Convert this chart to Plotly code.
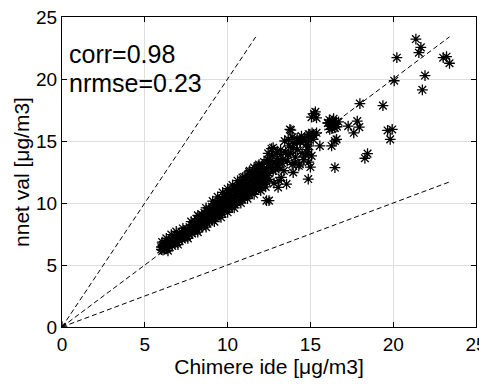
import plotly.graph_objects as go

# ---- data: Chimere ide (x) vs nnet val (y) ----
band_x = [
    6.0, 6.0,
    6.1, 6.1, 6.1,
    6.2, 6.2, 6.2,
    6.35, 6.35, 6.35,
    6.5, 6.5, 6.5,
    6.65, 6.65, 6.65,
    6.8, 6.8, 6.8,
    6.95, 6.95, 6.95,
    7.1, 7.1, 7.1,
    7.25, 7.25, 7.25,
    7.4, 7.4, 7.4,
    7.55, 7.55, 7.55,
    7.7, 7.7, 7.7,
    7.85, 7.85, 7.85,
    8.0, 8.0, 8.0, 8.0,
    8.15, 8.15, 8.15, 8.15,
    8.3, 8.3, 8.3, 8.3,
    8.45, 8.45, 8.45, 8.45,
    8.6, 8.6, 8.6, 8.6,
    8.75, 8.75, 8.75, 8.75,
    8.9, 8.9, 8.9, 8.9,
    9.05, 9.05, 9.05, 9.05,
    9.2, 9.2, 9.2, 9.2,
    9.35, 9.35, 9.35, 9.35,
    9.5, 9.5, 9.5, 9.5,
    9.65, 9.65, 9.65, 9.65,
    9.8, 9.8, 9.8, 9.8,
    9.95, 9.95, 9.95, 9.95,
    10.1, 10.1, 10.1, 10.1,
    10.25, 10.25, 10.25, 10.25,
    10.4, 10.4, 10.4, 10.4,
    10.55, 10.55, 10.55, 10.55,
    10.7, 10.7, 10.7, 10.7,
    10.85, 10.85, 10.85, 10.85,
    11.0, 11.0, 11.0, 11.0, 11.0,
    11.15, 11.15, 11.15, 11.15,
    11.3, 11.3, 11.3, 11.3,
    11.45, 11.45, 11.45, 11.45,
    11.6, 11.6, 11.6, 11.6,
    11.75, 11.75, 11.75, 11.75,
    11.9, 11.9, 11.9, 11.9,
    12.05, 12.05, 12.05, 12.05,
    12.2, 12.2, 12.2,
    12.35, 12.35, 12.35,
    12.5, 12.5, 12.5,
]
band_y = [
    6.25, 6.45,
    6.2, 6.4, 6.6,
    6.3, 6.55, 6.75,
    6.35, 6.6, 6.85,
    6.45, 6.7, 6.95,
    6.55, 6.8, 7.05,
    6.7, 6.95, 7.2,
    6.85, 7.1, 7.35,
    6.95, 7.2, 7.45,
    7.05, 7.3, 7.6,
    7.2, 7.45, 7.75,
    7.3, 7.6, 7.9,
    7.45, 7.75, 8.05,
    7.55, 7.85, 8.2,
    7.7, 8.0, 8.3, 8.55,
    7.85, 8.15, 8.45, 8.7,
    8.0, 8.3, 8.6, 8.9,
    8.1, 8.45, 8.75, 9.05,
    8.25, 8.55, 8.9, 9.2,
    8.4, 8.7, 9.05, 9.35,
    8.5, 8.85, 9.2, 9.55,
    8.65, 9.0, 9.35, 9.7,
    8.8, 9.15, 9.5, 9.85,
    8.9, 9.3, 9.65, 10.0,
    9.05, 9.4, 9.8, 10.2,
    9.2, 9.55, 9.95, 10.35,
    9.35, 9.7, 10.1, 10.5,
    9.5, 9.85, 10.25, 10.7,
    9.6, 10.0, 10.4, 10.85,
    9.75, 10.15, 10.55, 11.0,
    9.9, 10.3, 10.7, 11.15,
    10.05, 10.45, 10.9, 11.3,
    10.2, 10.6, 11.05, 11.5,
    10.3, 10.75, 11.2, 11.65,
    10.45, 10.9, 11.35, 11.8, 12.1,
    10.6, 11.0, 11.5, 11.95,
    10.7, 11.15, 11.65, 12.1,
    10.85, 11.3, 11.8, 12.3,
    11.0, 11.45, 11.95, 12.45,
    11.1, 11.6, 12.1, 12.6,
    11.25, 11.75, 12.25, 12.75,
    11.4, 11.9, 12.4, 12.9,
    11.5, 12.05, 12.55,
    11.7, 12.2, 12.8,
    11.9, 12.4, 13.1,
]

fringe_x = [
    6.05, 6.3, 6.6, 6.9, 7.3, 7.8, 8.2, 8.7, 9.1, 9.4, 9.7, 10.0, 10.3,
    10.6, 10.9, 11.3, 11.6, 11.9, 12.2, 12.4,
    6.4, 7.0, 7.6, 8.2, 8.7, 9.2, 9.6, 10.0, 10.4, 10.8, 11.2, 11.6,
    12.0, 12.3, 12.8, 13.1,
]
fringe_y = [
    6.85, 7.15, 7.45, 7.7, 7.95, 8.5, 9.0, 9.6, 10.15, 10.5, 10.85, 11.15,
    11.45, 11.8, 12.05, 12.5, 12.85, 13.1, 13.3, 13.5,
    6.15, 6.65, 7.15, 7.65, 8.05, 8.5, 8.85, 9.25, 9.6, 10.0, 10.35, 10.7,
    11.0, 11.3, 11.6, 11.8,
]

scatter_x = [
    0.0,
    11.34, 11.85, 11.95, 12.25, 12.35, 12.5, 12.45, 12.65, 12.75, 12.55, 12.75,
    12.6, 12.8, 12.9, 13.0, 13.1, 13.2, 13.3, 13.4, 13.5, 13.6, 13.7, 13.8,
    13.9, 14.0, 14.1, 14.2, 14.3, 14.4, 14.5, 14.6, 14.7, 14.85, 14.9, 15.0,
    13.45, 13.9, 14.2, 13.2, 12.7, 13.0, 14.7, 14.9,
    13.05, 12.95, 13.25, 13.56, 13.35, 13.66, 13.1, 14.06, 13.96, 14.36,
    14.87, 15.07, 13.66, 13.96, 14.36, 14.77, 14.66, 14.46, 13.82, 13.76,
    14.9, 15.1, 15.2, 15.05, 14.97, 15.17, 15.37, 15.57, 16.28, 16.58, 16.48,
    16.48, 14.87,
    15.07, 15.22, 15.37, 15.3,
    16.05, 16.2, 16.35, 16.5, 16.6, 16.3, 16.7, 16.4, 16.15,
    16.07, 16.38, 16.48, 16.17,
    17.28, 17.83, 17.95, 17.62, 17.99, 19.38,
    19.66, 19.94, 19.82, 18.45, 18.29,
    21.37, 21.67, 21.55, 20.22, 23.02, 23.22, 23.4, 21.92, 21.76, 20.06,
]
scatter_y = [
    0.0,
    12.6, 13.0, 11.93, 12.06, 10.19, 10.19, 14.0, 14.38, 14.46, 13.4, 12.6,
    12.9, 13.3, 12.7, 13.6, 12.9, 13.9, 13.2, 12.6, 14.1, 13.4, 14.6, 14.0,
    13.1, 14.8, 13.7, 14.3, 13.0, 14.9, 14.0, 13.5, 15.0, 14.3, 13.3, 12.9,
    15.0, 15.3, 15.2, 14.3, 13.8, 14.1, 13.9, 14.6,
    11.26, 13.13, 12.06, 11.53, 13.53, 13.93, 13.26, 13.26, 12.46, 13.13,
    13.93, 13.8, 15.13, 14.46, 15.0, 14.73, 15.26, 15.4, 15.88, 15.93,
    15.55, 15.65, 15.45, 15.3, 15.53, 15.13, 15.66, 14.6, 14.6, 15.13, 12.86,
    15.0, 11.93,
    16.92, 17.2, 16.86, 17.35,
    16.45, 16.25, 16.6, 16.35, 16.15, 16.0, 16.55, 16.8, 16.7,
    16.46, 16.6, 16.06, 15.93,
    16.2, 16.6, 16.12, 15.66, 18.02, 17.85,
    15.85, 15.93, 15.13, 13.98, 13.61,
    23.22, 22.55, 22.12, 21.72, 21.72, 21.8, 21.27, 20.28, 19.13, 19.86,
]

corr_text = "corr=0.98"
nrmse_text = "nrmse=0.23"
x_title = "Chimere ide [μg/m3]"
y_title = "nnet val [μg/m3]"
tick_vals = [0, 5, 10, 15, 20, 25]

all_x = band_x + fringe_x + scatter_x
all_y = band_y + fringe_y + scatter_y
m = max(max(all_x), max(all_y))

fig = go.Figure()

dash_style = dict(color="black", width=1, dash="5px,3px")
fig.add_trace(go.Scatter(x=[0, m], y=[0, m], mode="lines", line=dash_style,
                         hoverinfo="skip", showlegend=False))
fig.add_trace(go.Scatter(x=[0, m / 2], y=[0, m], mode="lines", line=dash_style,
                         hoverinfo="skip", showlegend=False))
fig.add_trace(go.Scatter(x=[0, m], y=[0, m / 2], mode="lines", line=dash_style,
                         hoverinfo="skip", showlegend=False))

fig.add_trace(go.Scatter(
    x=all_x, y=all_y, mode="markers",
    marker=dict(symbol="asterisk-open", size=9, color="black",
                line=dict(width=1.3, color="black")),
    showlegend=False,
))

font_family = "Liberation Sans, Arial, Helvetica, sans-serif"
axis_common = dict(
    range=[0, 25], tickvals=tick_vals, ticks="inside", ticklen=5,
    tickcolor="black", tickwidth=1, showline=True, linecolor="black",
    linewidth=1, mirror="ticks", showgrid=True, gridcolor="#dedede",
    gridwidth=1, zeroline=False, tickfont=dict(size=19, color="black"),
    automargin=False, ticklabeloverflow="allow",
)
fig.update_xaxes(**axis_common, title=dict(text=x_title, font=dict(size=21, color="black"), standoff=3))
fig.update_yaxes(**axis_common, title=dict(text=y_title, font=dict(size=21, color="black"), standoff=0))

fig.add_annotation(x=0.3, y=22.0, xref="x", yref="y", text=corr_text,
                   showarrow=False, xanchor="left", yanchor="middle",
                   font=dict(size=25, color="black"))
fig.add_annotation(x=0.3, y=19.7, xref="x", yref="y", text=nrmse_text,
                   showarrow=False, xanchor="left", yanchor="middle",
                   font=dict(size=25, color="black"))

# page body has an 8px margin, so the figure is shifted by 8px right/down
fig.update_layout(
    width=479, height=382,
    margin=dict(l=54, r=11, t=9, b=63),
    paper_bgcolor="white", plot_bgcolor="white",
    font=dict(family=font_family, color="black"),
)

fig.write_html("out.html")
